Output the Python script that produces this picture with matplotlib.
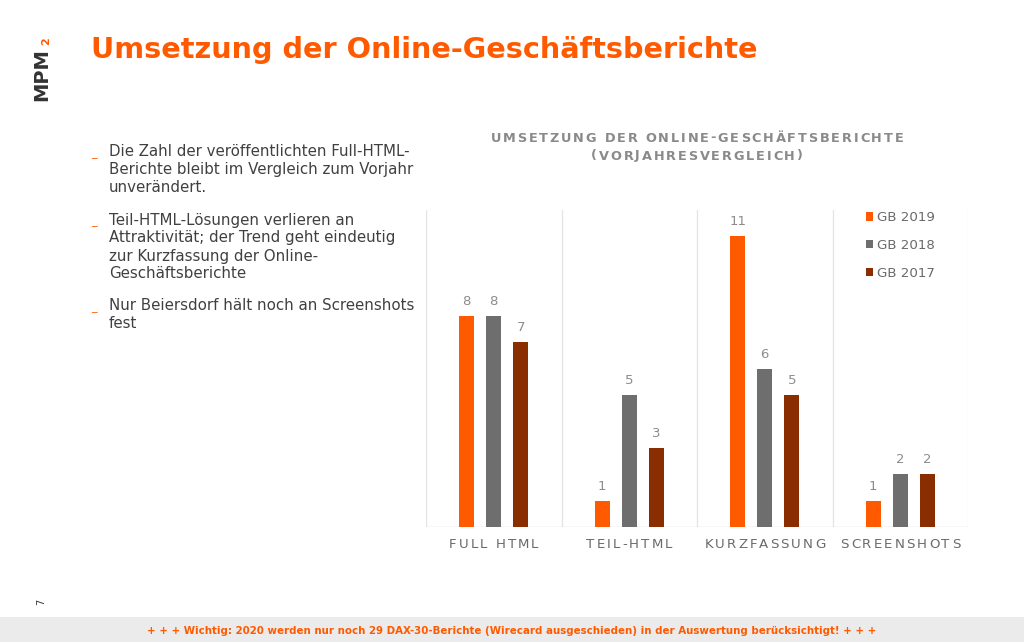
import matplotlib
matplotlib.use('Agg')
import matplotlib.pyplot as plt
from matplotlib.font_manager import FontProperties, findfont
from matplotlib.ft2font import FT2Font

categories = ['FULL HTML', 'TEIL-HTML', 'KURZFASSUNG', 'SCREENSHOTS']
series_names = ['GB 2019', 'GB 2018', 'GB 2017']
gb2019 = [8, 1, 11, 1]
gb2018 = [8, 5, 6, 2]
gb2017 = [7, 3, 5, 2]

title = 'Umsetzung der Online-Geschäftsberichte'
chart_title = ['UMSETZUNG DER ONLINE-GESCHÄFTSBERICHTE', '(VORJAHRESVERGLEICH)']
bullets = [
    ['Die Zahl der veröffentlichten Full-HTML-', 'Berichte bleibt im Vergleich zum Vorjahr', 'unverändert.'],
    ['Teil-HTML-Lösungen verlieren an', 'Attraktivität; der Trend geht eindeutig',
     'zur Kurzfassung der Online-', 'Geschäftsberichte'],
    ['Nur Beiersdorf hält noch an Screenshots', 'fest'],
]
footer = '+ + + Wichtig: 2020 werden nur noch 29 DAX-30-Berichte (Wirecard ausgeschieden) in der Auswertung berücksichtigt! + + +'

ORANGE = '#ff5a00'
GRAY = '#6e6e6e'
BROWN = '#8a2d00'
TXT = '#404040'
colors = [ORANGE, GRAY, BROWN]

W, H = 1024, 642
fig = plt.figure(figsize=(W / 100, H / 100), dpi=100)
fig.patch.set_facecolor('white')


def px(x, y):
    # pixel coords (top-left origin) -> figure fraction
    return x / W, 1 - y / H


def spaced_text(x, y, s, spacing, size, color, weight='normal', family='DejaVu Sans'):
    # centred text with extra letter spacing, drawn glyph by glyph
    fp = FontProperties(family=family, size=size, weight=weight)
    ft = FT2Font(findfont(fp))
    ft.set_size(size, 100)
    advances = [ft.load_char(ord(c)).linearHoriAdvance / 65536 for c in s]
    total = sum(advances) + spacing * (len(s) - 1)
    pen = x - total / 2
    for c, adv in zip(s, advances):
        if c != ' ':
            fig.text(*px(pen, y), c, fontproperties=fp, color=color, ha='left', va='center')
        pen += adv + spacing


# header
fig.text(*px(91, 50), title, color=ORANGE, fontsize=20.7, fontweight='bold',
         family='DejaVu Sans', ha='left', va='center')
fig.text(*px(42, 75), 'MPM', color='#333333', fontsize=14, fontweight='heavy',
         rotation=90, ha='center', va='center', family='DejaVu Sans')
fig.text(*px(46, 41), '2', color=ORANGE, fontsize=8, fontweight='bold',
         rotation=90, ha='center', va='center')
fig.text(*px(41, 602), '7', color='#333333', fontsize=7, rotation=90,
         ha='center', va='center')

# bullets
y = 152
for block in bullets:
    fig.text(*px(91, y + 2), '_', color=ORANGE, fontsize=8, ha='left', va='center')
    for line in block:
        fig.text(*px(109, y), line, color=TXT, fontsize=10.8, ha='left', va='center',
                 family='DejaVu Sans')
        y += 18
    y += 14

# footer band
band = fig.add_axes([0, 0, 1, 25 / H])
band.set_facecolor('#ebebeb')
band.set_xticks([])
band.set_yticks([])
for s in band.spines.values():
    s.set_visible(False)
fig.text(*px(512, 631), footer, color=ORANGE, fontsize=7.4, fontweight='bold',
         ha='center', va='center', family='DejaVu Sans')

# chart
ax = fig.add_axes([426 / W, 1 - 527 / H, 542 / W, 317 / H])
ax.set_xlim(-0.5, len(categories) - 0.5)
ax.set_ylim(0, 12)
for s in ax.spines.values():
    s.set_visible(False)
ax.set_xticks([])
ax.set_yticks([])
for xv in [-0.5, 0.5, 1.5, 2.5, 3.5]:
    ax.axvline(xv, color='#e3e3e3', lw=0.9, zorder=0)
ax.axhline(0, color='#d9d9d9', lw=1.0, zorder=1)

bw = 0.11
offs = [-0.2, 0.0, 0.2]
for series, c, o, name in zip([gb2019, gb2018, gb2017], colors, offs, series_names):
    xs = [i + o for i in range(len(categories))]
    ax.bar(xs, series, width=bw, color=c, label=name, zorder=2)
    for xv, v in zip(xs, series):
        ax.text(xv, v + 0.3, str(v), ha='center', va='bottom', color='#8c8c8c', fontsize=9.5)

leg = ax.legend(loc='upper right', bbox_to_anchor=(0.962, 1.034), frameon=False,
                handlelength=0.55, handleheight=0.55, handletextpad=0.3,
                labelspacing=1.1, fontsize=9.6)
for t in leg.get_texts():
    t.set_color('#6a6a6a')

for i, cat in enumerate(categories):
    xp, _ = ax.transData.transform((i, 0))
    spaced_text(xp, 545, cat, 2.0, 9.6, '#6a6a6a')

spaced_text(697, 138, chart_title[0], 1.8, 9.3, '#8a8a8a', weight='bold')
spaced_text(697, 156, chart_title[1], 1.8, 9.3, '#8a8a8a', weight='bold')

fig.savefig('out.png', dpi=100)
